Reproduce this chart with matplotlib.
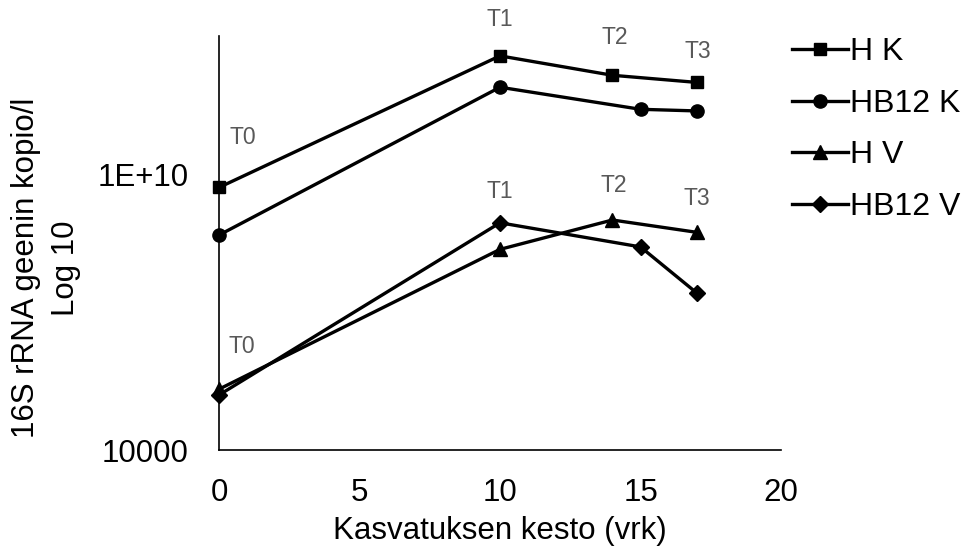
import matplotlib
matplotlib.use("Agg")
import matplotlib.pyplot as plt

# Kasvatuksen kesto (vrk) ja 16S rRNA geenin kopiot / l
days_hk = [0, 10, 14, 17]
h_k = [5.1e9, 3.7e12, 1.4e12, 9.8e11]

days_hb12k = [0, 10, 15, 17]
hb12_k = [4.7e8, 7.7e11, 2.55e11, 2.35e11]

days_hv = [0, 10, 14, 17]
h_v = [2.1e5, 2.3e8, 1.0e9, 5.4e8]

days_hb12v = [0, 10, 15, 17]
hb12_v = [1.57e5, 8.7e8, 2.6e8, 2.6e7]

time_points = ["T0", "T1", "T2", "T3"]

plt.rcParams['font.family'] = ['Liberation Sans', 'DejaVu Sans']

fig = plt.figure(figsize=(9.64, 5.47), dpi=100)
ax = fig.add_axes([219 / 964, 1 - 450 / 547, (781 - 219) / 964, (450 - 36) / 547])

lw = 2.4
ax.plot(days_hk, h_k, 'k-', marker='s', ms=9, lw=lw, label="H K", clip_on=False)
ax.plot(days_hb12k, hb12_k, 'k-', marker='o', ms=9.5, lw=lw, label="HB12 K", clip_on=False)
ax.plot(days_hv, h_v, 'k-', marker='^', ms=10, lw=lw, label="H V", clip_on=False)
ax.plot(days_hb12v, hb12_v, 'k-', marker='D', ms=8, lw=lw, label="HB12 V", clip_on=False)

ax.set_yscale('log')
ax.set_ylim(1e4, 1e13)
ax.set_xlim(0, 20)
ax.set_xticks([0, 5, 10, 15, 20])
ax.set_yticks([1e4, 1e10])
ax.set_yticklabels(["10000", "1E+10"])
ax.yaxis.set_minor_locator(matplotlib.ticker.NullLocator())
ax.tick_params(axis='both', length=0, labelsize=22.5)
ax.tick_params(axis='y', pad=22)
ax.tick_params(axis='x', pad=20)

for side in ['top', 'right']:
    ax.spines[side].set_visible(False)
for side in ['left', 'bottom']:
    ax.spines[side].set_linewidth(1.2)

ax.set_xlabel("Kasvatuksen kesto (vrk)", fontsize=22.5, labelpad=6)
ax.set_ylabel("16S rRNA geenin kopio/l\nLog 10", fontsize=22.5, linespacing=1.45)
ax.yaxis.set_label_coords(-0.245, 0.44)

# aikapisteiden merkinnat
upper_offsets = [(24, 50), (0, 36), (2, 38), (1, 31)]
lower_offsets = [(23, 43), (0, 31), (1, 34), (0, 34)]
lower_ref = [max(a, b) for a, b in zip(h_v, hb12_v)]
for i, t in enumerate(time_points):
    ax.annotate(t, (days_hk[i], h_k[i]), xytext=upper_offsets[i], textcoords='offset pixels',
                ha='center', va='center', fontsize=16.5, color='#595959', annotation_clip=False)
    ax.annotate(t, (days_hv[i], lower_ref[i]), xytext=lower_offsets[i], textcoords='offset pixels',
                ha='center', va='center', fontsize=16.5, color='#595959', annotation_clip=False)

ax.legend(loc='upper left', bbox_to_anchor=(792 / 964, 1 - 37 / 547), bbox_transform=fig.transFigure,
          frameon=False, fontsize=23, handlelength=1.75, handletextpad=0.05, labelspacing=0.68,
          borderaxespad=0, borderpad=0)

fig.savefig("out.png", dpi=100)
